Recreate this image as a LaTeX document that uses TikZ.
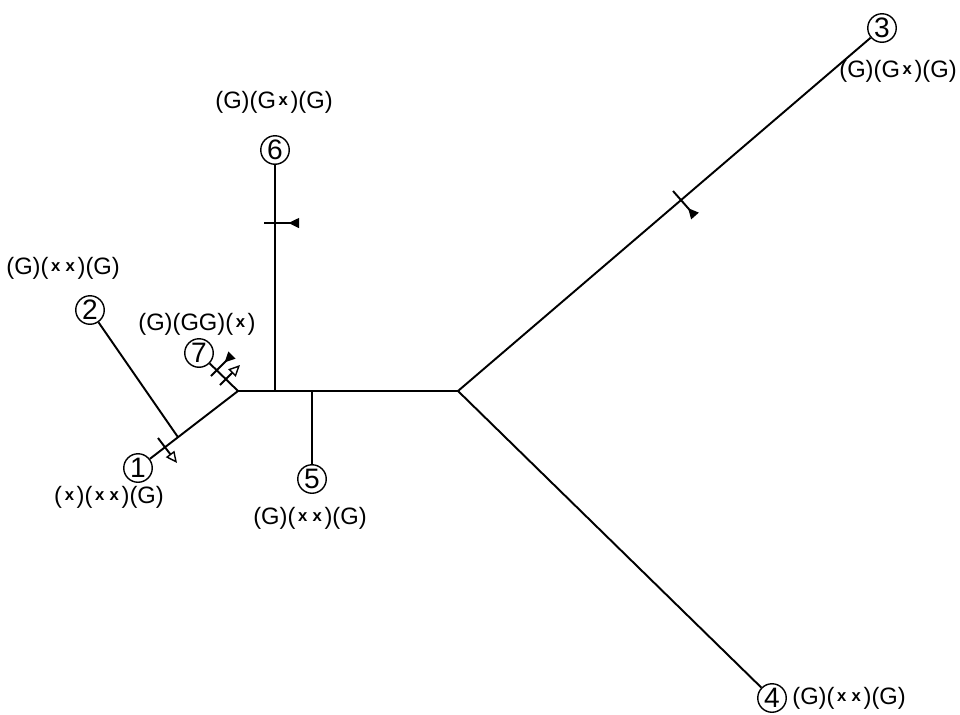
\documentclass[tikz,border=0pt]{standalone}
\usepackage{fontspec}
\setmainfont{Liberation Sans}
\usetikzlibrary{arrows.meta,calc}
\newcommand{\sx}{\kern1.5pt\raisebox{1.6pt}{\fontsize{9.5}{9.5}\selectfont\bfseries x}\kern1.5pt}

\begin{document}
\begin{tikzpicture}[
    x=0.02cm,y=-0.02cm,
    num/.style={circle,draw,line width=0.8pt,minimum size=0.57cm,inner sep=0pt,
      font=\fontsize{16}{16}\selectfont},
    lab/.style={inner sep=0pt,font=\fontsize{13.5}{13.5}\selectfont},
    edge/.style={draw=black,line width=1.1pt},
    tick/.style={draw=black,line width=1.1pt},
    solidtip/.style={tick,-{Triangle[reversed,length=6pt,width=5.5pt]}},
    opentip/.style={tick,-{Triangle[open,length=6.5pt,width=6pt,line width=0.8pt]}}
  ]
    \useasboundingbox (0,0) rectangle (960,714);
    % circled leaves
    \node[num] (n1) at (138,468) {1};
    \node[num] (n2) at (90,310) {2};
    \node[num] (n3) at (882,28) {3};
    \node[num] (n4) at (772,698) {4};
    \node[num] (n5) at (312,479) {5};
    \node[num] (n6) at (275,150) {6};
    \node[num] (n7) at (199,353) {7};
    % labels
    \node[lab] (l1) at (109,497) {(\sx)(\sx\sx)(G)};
    \node[lab,anchor=west] (l2) at (6,268) {(G)(\sx\sx)(G)};
    \node[lab,anchor=east] (l3) at (957,71) {(G)(G\sx)(G)};
    \node[lab,anchor=west] (l4) at (792,698) {(G)(\sx\sx)(G)};
    \node[lab] (l5) at (310,518) {(G)(\sx\sx)(G)};
    \node[lab] (l6) at (274,102) {(G)(G\sx)(G)};
    \node[lab] (l7) at (197,324) {(G)(GG)(\sx)};
    % junctions
    \coordinate (jl) at (238,391);
    \coordinate (jr) at (458,391);
    \coordinate (j6) at (275,391);
    \coordinate (j5) at (312,391);
    \coordinate (j2) at ($(jl)!0.6!(n1)$);
    % branches
    \draw[edge] (jl) -- (jr);
    \draw[edge] (j6) -- (n6);
    \draw[edge] (j5) -- (n5);
    \draw[edge] (jl) -- (n7);
    \draw[edge] (jl) -- (n1);
    \draw[edge] (j2) -- (n2);
    \draw[edge] (jr) -- (n3);
    \draw[edge] (jr) -- (n4);
    % marks
    \draw[solidtip] (264,223) -- (299,223);
    \draw[solidtip] (673,191) -- (695,216);
    \draw[solidtip] (211,376) -- (232,355);
    \draw[opentip] (220,385) -- (240,365);
    \draw[opentip] (158,438) -- (177,463);
  \end{tikzpicture}
\end{document}
